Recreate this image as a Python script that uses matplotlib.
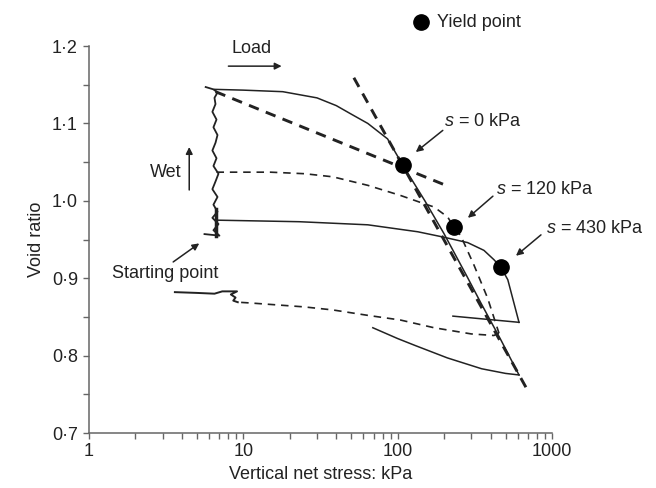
import matplotlib
matplotlib.use("Agg")
import matplotlib.pyplot as plt
from matplotlib.ticker import FixedLocator, FixedFormatter, NullFormatter

plt.rcParams["font.family"] = ["Liberation Sans", "DejaVu Sans"]
plt.rcParams["mathtext.fontset"] = "custom"
plt.rcParams["mathtext.it"] = "Liberation Sans:italic"
plt.rcParams["mathtext.rm"] = "Liberation Sans"

# wetting path at constant load (starting point up to the swelled states)
wet_x = [5.6, 7.0, 6.4, 6.9, 6.3, 6.8, 6.4, 6.8, 6.3, 6.6, 6.9, 6.4, 6.7, 6.3,
         6.6, 6.8, 6.4, 6.7, 6.3, 6.6, 6.5, 6.8, 6.4, 5.7]
wet_e = [0.957, 0.955, 0.962, 0.970, 0.978, 0.986, 0.995, 1.005, 1.015, 1.025,
         1.035, 1.045, 1.055, 1.065, 1.075, 1.085, 1.095, 1.105, 1.115, 1.125,
         1.133, 1.140, 1.144, 1.147]

# s = 0 kPa
s0_load_x = [6.5, 10, 18, 30, 40, 50, 64, 86, 108, 150, 199, 280, 346, 467, 611]
s0_load_e = [1.144, 1.143, 1.141, 1.133, 1.123, 1.112, 1.100, 1.080, 1.046,
             1.000, 0.958, 0.903, 0.868, 0.820, 0.775]
s0_unload_x = [611, 500, 350, 210, 130, 100, 69]
s0_unload_e = [0.775, 0.777, 0.783, 0.797, 0.813, 0.822, 0.836]

# s = 120 kPa
s120_load_x = [6.7, 15, 25, 38, 64, 104, 140, 172, 211, 231, 256, 312, 383, 453]
s120_load_e = [1.037, 1.037, 1.035, 1.031, 1.020, 1.007, 0.998, 0.992, 0.979,
               0.966, 0.955, 0.917, 0.874, 0.829]
s120_unload_x = [453, 420, 300, 172, 104, 64, 38, 24.6, 11.1, 9.2]
s120_unload_e = [0.829, 0.826, 0.828, 0.836, 0.846, 0.852, 0.859, 0.863, 0.868, 0.869]
dry_x = [3.6, 5.0, 6.5, 7.3, 9.1, 8.3, 8.9, 8.6, 9.2]
dry_e = [0.882, 0.881, 0.880, 0.883, 0.883, 0.879, 0.875, 0.871, 0.869]

# s = 430 kPa
s430_load_x = [6.7, 23, 64, 135, 199, 284, 362, 420, 467, 517, 611]
s430_load_e = [0.975, 0.973, 0.969, 0.960, 0.953, 0.946, 0.936, 0.924, 0.914,
               0.898, 0.843]
s430_unload_x = [611, 228]
s430_unload_e = [0.843, 0.851]

# construction lines and yield points
pre_yield_x = [6.6, 211]
pre_yield_e = [1.141, 1.019]
ncl_x = [52, 709]
ncl_e = [1.159, 0.752]
yield_x = [108, 231, 467]
yield_e = [1.046, 0.966, 0.914]

y_ticks = [0.7, 0.8, 0.9, 1.0, 1.1, 1.2]
y_labels = ["0·7", "0·8", "0·9", "1·0", "1·1", "1·2"]
x_ticks = [1, 10, 100, 1000]
x_labels = ["1", "10", "100", "1000"]

ink = "#222222"
axis_grey = "#666666"
fs = 13

fig = plt.figure(figsize=(6.56, 4.88), dpi=100)
ax = fig.add_axes([0.1357, 0.1127, 0.7058, 0.793])
ax.set_xscale("log")
ax.set_xlim(1, 1000)
ax.set_ylim(0.7, 1.2)

# wetting and drying traces
ax.plot(wet_x, wet_e, color=ink, lw=1.3)
ax.plot([6.6, 6.6], [0.955, 0.99], color=ink, lw=2.5)
ax.plot(dry_x, dry_e, color=ink, lw=1.4)

# test curves
ax.plot(s0_load_x, s0_load_e, color=ink, lw=1.1)
ax.plot(s0_unload_x, s0_unload_e, color=ink, lw=1.1)
ax.plot(s120_load_x, s120_load_e, color=ink, lw=1.2, dashes=(4.5, 3.5))
ax.plot(s120_unload_x, s120_unload_e, color=ink, lw=1.2, dashes=(4.5, 3.5))
ax.plot(s430_load_x, s430_load_e, color=ink, lw=1.1)
ax.plot(s430_unload_x, s430_unload_e, color=ink, lw=1.1)

# bilinear construction
ax.plot(pre_yield_x, pre_yield_e, color=ink, lw=2.1, dashes=(3.6, 2.6))
ax.plot(ncl_x, ncl_e, color=ink, lw=2.1, dashes=(3.6, 2.6))

ax.plot(yield_x, yield_e, "o", color="black", ms=11, zorder=5)

# legend entry for the yield points
ax.plot([141], [1.231], "o", color="black", ms=11, clip_on=False)
ax.text(180, 1.231, "Yield point", fontsize=fs, color=ink, va="center",
        ha="left")

arrow = dict(arrowstyle="-|>", color=ink, lw=1.1, mutation_scale=10,
             shrinkA=0, shrinkB=0)

ax.text(11.3, 1.197, "Load", fontsize=fs, color=ink, ha="center", va="center")
ax.annotate("", xy=(17.7, 1.174), xytext=(8.0, 1.174), arrowprops=arrow,
            annotation_clip=False)

ax.text(3.12, 1.037, "Wet", fontsize=fs, color=ink, ha="center", va="center")
ax.annotate("", xy=(4.46, 1.0695), xytext=(4.46, 1.014), arrowprops=arrow)

ax.text(3.12, 0.906, "Starting point", fontsize=fs, color=ink,
        ha="center", va="center")
ax.annotate("", xy=(5.18, 0.945), xytext=(3.51, 0.921), arrowprops=arrow)

labels = [
    (r"$s$ = 0 kPa", (199, 1.102), (196, 1.091), (131, 1.063)),
    (r"$s$ = 120 kPa", (433, 1.014), (414, 1.006), (285, 0.978)),
    (r"$s$ = 430 kPa", (914, 0.9636), (848, 0.956), (584, 0.929)),
]
for txt, pos, tail, head in labels:
    ax.text(pos[0], pos[1], txt, fontsize=fs, color=ink, ha="left",
            va="center", clip_on=False)
    ax.annotate("", xy=head, xytext=tail, arrowprops=arrow,
                annotation_clip=False)

# axes styling
for side in ("top", "right"):
    ax.spines[side].set_visible(False)
for side in ("left", "bottom"):
    ax.spines[side].set_color(axis_grey)
    ax.spines[side].set_linewidth(1.1)

ax.yaxis.set_major_locator(FixedLocator(y_ticks))
ax.yaxis.set_major_formatter(FixedFormatter(y_labels))
ax.yaxis.set_minor_locator(FixedLocator([0.75, 0.85, 0.95, 1.05, 1.15]))
ax.xaxis.set_major_locator(FixedLocator(x_ticks))
ax.xaxis.set_major_formatter(FixedFormatter(x_labels))
ax.xaxis.set_minor_locator(FixedLocator(
    [m * d for d in (1, 10, 100) for m in range(2, 10)]))
ax.xaxis.set_minor_formatter(NullFormatter())

ax.tick_params(which="both", direction="out", length=4, width=1.0,
               color=axis_grey, labelsize=fs, labelcolor=ink)
ax.tick_params(axis="y", pad=4)

ax.set_xlabel("Vertical net stress: kPa", fontsize=fs, color=ink, labelpad=4)
ax.set_ylabel("Void ratio", fontsize=fs, color=ink, labelpad=5)

fig.savefig("out.png", dpi=100)
plt.close(fig)
